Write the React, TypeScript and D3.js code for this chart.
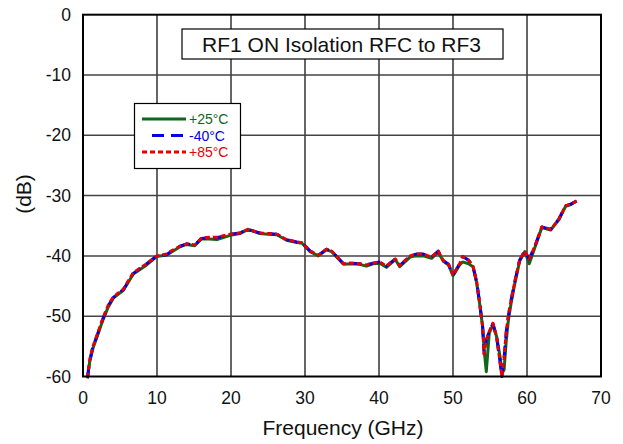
import React from "react";
import * as d3 from "d3";

const freq = [0.6,0.9,1.35,1.9,2.7,3.4,4.1,5.45,6.8,8.6,9.95,11.3,12.2,13.1,14.0,15.1,16.0,17.0,18.1,19.9,21.2,22.3,23.9,25.0,26.2,27.5,28.9,29.6,30.7,31.8,32.9,33.6,35.2,36.3,37.4,38.3,39.2,40.1,41.0,42.2,42.8,44.2,45.0,46.0,47.1,48.0,48.7,49.4,50.0,50.9,51.3,52.1,52.7,53.2,53.6,54.0,54.2,54.5,54.9,55.4,55.9,56.4,56.6,56.9,57.2,57.5,57.9,58.4,59.0,59.7,60.3,61.1,62.0,63.2,64.3,65.2,65.9,66.7];

const s25 = [-60.3,-57.6,-55.3,-53.4,-50.6,-48.5,-47.0,-45.7,-43.0,-41.5,-40.1,-39.85,-39.2,-38.5,-38.1,-38.3,-37.2,-37.2,-37.3,-36.6,-36.3,-35.6,-36.3,-36.4,-36.5,-37.4,-37.8,-37.9,-39.3,-40.0,-39.0,-39.3,-41.4,-41.3,-41.4,-41.7,-41.3,-41.2,-41.9,-40.6,-41.8,-40.2,-40.0,-40.0,-40.4,-39.4,-40.9,-41.5,-43.3,-41.5,-41.0,-41.3,-41.8,-44.5,-47.9,-51.7,-55.5,-59.2,-52.8,-51.4,-53.4,-57.0,-59.5,-58.9,-54.0,-50.5,-47.5,-44.3,-40.9,-39.3,-41.3,-38.5,-35.3,-35.7,-34.0,-31.8,-31.5,-30.9];

const sM40 = [-60.3,-57.4,-55.0,-53.2,-50.4,-48.3,-46.9,-45.6,-42.9,-41.3,-40.0,-39.8,-39.0,-38.4,-38.0,-38.2,-37.1,-37.0,-37.0,-36.4,-36.2,-35.6,-36.2,-36.3,-36.4,-37.3,-37.7,-37.8,-39.2,-39.9,-38.9,-39.2,-41.3,-41.2,-41.3,-41.5,-41.2,-41.0,-41.7,-40.5,-41.6,-40.0,-39.7,-39.7,-40.2,-39.2,-40.8,-41.4,-43.2,-41.3,-40.1,-40.7,-41.7,-44.3,-47.8,-51.7,-56.2,-54.0,-52.5,-51.2,-53.5,-58.0,-60.0,-57.0,-52.5,-49.8,-47.0,-44.0,-40.7,-39.2,-40.5,-38.3,-35.2,-35.6,-33.9,-31.7,-31.4,-30.9];

const s85 = [-60.2,-57.3,-55.0,-53.1,-50.3,-48.2,-46.8,-45.5,-42.8,-41.3,-40.0,-39.7,-39.0,-38.4,-38.0,-38.2,-37.1,-36.9,-36.9,-36.4,-36.2,-35.6,-36.2,-36.3,-36.4,-37.3,-37.7,-37.8,-39.2,-39.9,-38.9,-39.2,-41.3,-41.2,-41.3,-41.5,-41.2,-41.0,-41.7,-40.5,-41.6,-40.0,-39.7,-39.7,-40.2,-39.2,-40.8,-41.4,-43.2,-41.3,-40.1,-40.7,-41.7,-44.3,-47.8,-51.7,-56.3,-54.0,-52.5,-51.2,-53.5,-58.0,-60.0,-57.0,-52.5,-49.8,-47.0,-44.0,-40.7,-39.2,-40.5,-38.3,-35.2,-35.6,-33.9,-31.7,-31.4,-30.9];

const xTicks = [0, 10, 20, 30, 40, 50, 60, 70];
const yTicks = [0, -10, -20, -30, -40, -50, -60];
const seriesNames = ["+25°C", "-40°C", "+85°C"];
const seriesColors = ["#11661a", "#0000e6", "#e60000"];
const seriesDash = ["none", "12,7", "5,3"];
const titleText = "RF1 ON Isolation RFC to RF3";

const W = 623, H = 444;
const L = 83, R = 601, T = 14.7, B = 376.5;

export default function App() {
  const x = d3.scaleLinear().domain([0, 70]).range([L, R]);
  const y = d3.scaleLinear().domain([-60, 0]).range([B, T]);
  const line = d3.line<number>().x((_, i) => x(freq[i])).y(d => y(d)).curve(d3.curveLinear);
  const all = [s25, sM40, s85];
  const font = "Arial, 'Liberation Sans', Helvetica, sans-serif";
  return (
    <svg width={W} height={H} style={{ position: "absolute", left: 0, top: 0, background: "#fff" }} fontFamily={font}>
      <rect x={0} y={0} width={W} height={H} fill="#fff" />
      {xTicks.slice(1, -1).map(t => (
        <line key={"gx" + t} x1={x(t)} x2={x(t)} y1={T} y2={B} stroke="#333" strokeWidth={1.5} />
      ))}
      {yTicks.slice(1, -1).map(t => (
        <line key={"gy" + t} x1={L} x2={R} y1={y(t)} y2={y(t)} stroke="#444" strokeWidth={1.5} />
      ))}
      {xTicks.map(t => (
        <text key={"tx" + t} x={x(t)} y={404} fontSize={17.5} textAnchor="middle" fill="#111">{t}</text>
      ))}
      {yTicks.map(t => (
        <text key={"ty" + t} x={L - 12} y={y(t) + 6} fontSize={17.5} textAnchor="end" fill="#111">{t}</text>
      ))}
      <text x={343} y={435} fontSize={21} textAnchor="middle" fill="#111">Frequency (GHz)</text>
      <text transform={`translate(31,194) rotate(-90)`} fontSize={21} textAnchor="middle" fill="#111">(dB)</text>
      {all.map((s, i) => (
        <path key={"s" + i} d={line(s) || ""} fill="none" stroke={seriesColors[i]} strokeWidth={3}
          strokeDasharray={seriesDash[i]} strokeLinejoin="round" />
      ))}
      <rect x={L} y={T} width={R - L} height={B - T} fill="none" stroke="#000" strokeWidth={2} />
      <rect x={182} y={29} width={321} height={30} fill="#fff" stroke="#000" strokeWidth={1.2} />
      <text x={341.5} y={51.5} fontSize={21} textAnchor="middle" fill="#111">{titleText}</text>
      <rect x={134.5} y={103.5} width={106} height={65} fill="#fff" stroke="#000" strokeWidth={1.2} />
      {seriesNames.map((n, i) => (
        <g key={"lg" + i}>
          <line x1={i === 1 ? 152 : 142} x2={186} y1={119 + i * 16.5} y2={119 + i * 16.5}
            stroke={seriesColors[i]} strokeWidth={3} strokeDasharray={seriesDash[i]} />
          <text x={189} y={124 + i * 16.5} fontSize={14} fill={seriesColors[i]}>{n}</text>
        </g>
      ))}
    </svg>
  );
}
